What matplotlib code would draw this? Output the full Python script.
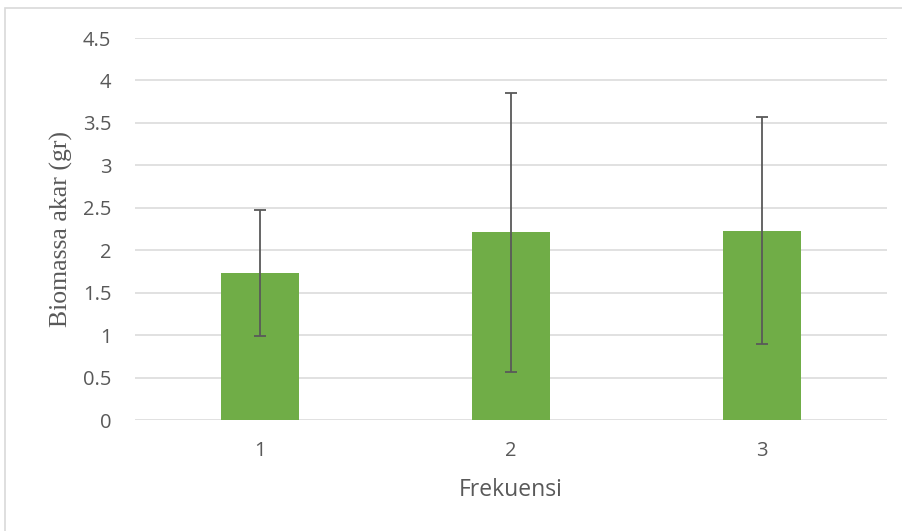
import matplotlib
matplotlib.use("Agg")
import matplotlib.pyplot as plt
from matplotlib.patches import Rectangle

# data
categories = ["1", "2", "3"]
biomassa = [1.73, 2.21, 2.23]
err = [0.74, 1.64, 1.34]
yticks = [0, 0.5, 1, 1.5, 2, 2.5, 3, 3.5, 4, 4.5]

BAR = "#70AD47"
TXT = "#595959"
GRID = "#D9D9D9"

fig = plt.figure(figsize=(9.02, 5.31), dpi=100)
ax = fig.add_axes([135 / 902, 111 / 531, 752 / 902, 382 / 531])

# chart area border
fig.patches.append(Rectangle((5 / 902, -0.05), 1.0, (531 - 8) / 531 + 0.05,
                             transform=fig.transFigure, fill=False,
                             edgecolor=GRID, lw=1.2))

x = range(len(categories))
ax.bar(x, biomassa, width=0.31, color=BAR, zorder=2)
ax.errorbar(x, biomassa, yerr=err, fmt="none", ecolor=TXT, elinewidth=1.3,
            capsize=4.3, capthick=1.3, zorder=3)

ax.set_xlim(-0.5, 2.5)
ax.set_ylim(0, 4.5)
ax.set_yticks(yticks)
ax.set_yticklabels([f"{v:g}" for v in yticks])
ax.set_xticks(list(x))
ax.set_xticklabels(categories)

ax.grid(axis="y", color=GRID, lw=1.1, zorder=0)
ax.set_axisbelow(True)
for s in ax.spines.values():
    s.set_visible(False)
ax.tick_params(length=0, colors=TXT, labelsize=14.5)
ax.tick_params(axis="y", pad=17)
ax.tick_params(axis="x", pad=15)
for lab in ax.get_xticklabels() + ax.get_yticklabels():
    lab.set_fontfamily("Open Sans")

ax.set_ylabel("Biomassa akar (gr)", fontfamily="Liberation Serif",
              fontsize=18.5, color=TXT, labelpad=7)
ax.set_xlabel("Frekuensi", fontfamily="Open Sans", fontsize=16.5,
              color=TXT, labelpad=12)

fig.savefig("out.png", dpi=100)
